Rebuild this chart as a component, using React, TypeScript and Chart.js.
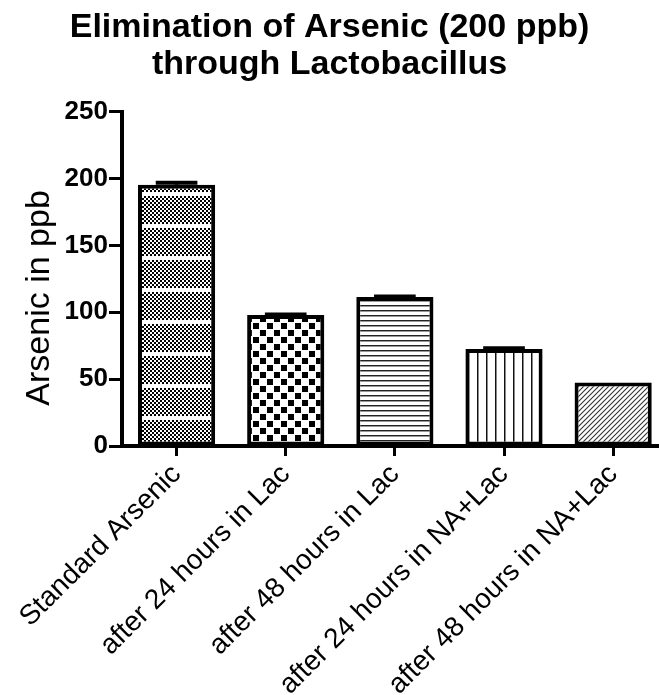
import React, { useEffect, useRef } from 'react';
import { Chart, registerables } from 'chart.js';

Chart.register(...registerables);

const categories = [
  'Standard Arsenic',
  'after 24 hours in Lac',
  'after 48 hours in Lac',
  'after 24 hours in NA+Lac',
  'after 48 hours in NA+Lac',
];
const meanValues = [195.5, 98, 111.5, 72.5, 47.5];
const errorValues = [1.5, 0.4, 0.4, 0.7, 0];
const yTicks = [0, 50, 100, 150, 200, 250];
const titleLines = ['Elimination of Arsenic (200 ppb)', 'through Lactobacillus'];
const yAxisTitle = 'Arsenic in ppb';
const patternKinds = ['fineChecker', 'coarseChecker', 'hLines', 'vLines', 'diagonal'];

const FONT = '"Liberation Sans", Arial, Helvetica, sans-serif';

function makePattern(kind: string): CanvasPattern | string {
  const c = document.createElement('canvas');
  const ctx = c.getContext('2d');
  if (!ctx) return '#fff';
  if (kind === 'fineChecker') {
    c.width = 4; c.height = 32;
    ctx.fillStyle = '#fff'; ctx.fillRect(0, 0, 4, 32);
    ctx.fillStyle = '#000';
    for (let y = 4; y < 32; y += 2) {
      const off = (y / 2) % 2 === 0 ? 0 : 2;
      ctx.fillRect(off, y, 2, 2);
    }
  } else if (kind === 'coarseChecker') {
    c.width = 14; c.height = 14;
    ctx.fillStyle = '#fff'; ctx.fillRect(0, 0, 14, 14);
    ctx.fillStyle = '#000';
    ctx.fillRect(1, 1, 6, 6);
    ctx.fillRect(8, 8, 6, 6);
  } else if (kind === 'hLines') {
    c.width = 5; c.height = 5;
    ctx.fillStyle = '#fff'; ctx.fillRect(0, 0, 5, 5);
    ctx.fillStyle = '#222'; ctx.fillRect(0, 0, 5, 1);
    ctx.fillStyle = '#999'; ctx.fillRect(0, 1, 5, 1);
  } else if (kind === 'vLines') {
    c.width = 9; c.height = 9;
    ctx.fillStyle = '#fff'; ctx.fillRect(0, 0, 9, 9);
    ctx.fillStyle = '#111'; ctx.fillRect(0, 0, 1, 9);
    ctx.fillStyle = '#888'; ctx.fillRect(1, 0, 1, 9);
  } else {
    c.width = 5; c.height = 5;
    ctx.fillStyle = '#fff'; ctx.fillRect(0, 0, 5, 5);
    ctx.strokeStyle = '#333'; ctx.lineWidth = 1.1;
    ctx.beginPath();
    ctx.moveTo(-1, 6); ctx.lineTo(6, -1);
    ctx.moveTo(-1, 1); ctx.lineTo(1, -1);
    ctx.moveTo(4, 6); ctx.lineTo(6, 4);
    ctx.stroke();
  }
  return ctx.createPattern(c, 'repeat') || '#fff';
}

const errorBarPlugin = {
  id: 'errorBars',
  afterDatasetsDraw(chart: any) {
    const meta = chart.getDatasetMeta(0);
    const yScale = chart.scales.y;
    const ctx = chart.ctx;
    ctx.save();
    ctx.strokeStyle = '#000';
    ctx.lineWidth = 4;
    meta.data.forEach((bar: any, i: number) => {
      const e = errorValues[i];
      if (!e) return;
      const top = yScale.getPixelForValue(meanValues[i] + e);
      const half = bar.width * 0.27;
      ctx.beginPath();
      ctx.moveTo(bar.x, bar.y);
      ctx.lineTo(bar.x, top);
      ctx.stroke();
      ctx.beginPath();
      ctx.moveTo(bar.x - half, top);
      ctx.lineTo(bar.x + half, top);
      ctx.stroke();
    });
    ctx.restore();
  },
};

const yTitlePlugin = {
  id: 'yTitle',
  afterDraw(chart: any) {
    const { ctx, chartArea } = chart;
    ctx.save();
    ctx.translate(40, (chartArea.top + chartArea.bottom) / 2 + 19);
    ctx.rotate(-Math.PI / 2);
    ctx.font = `34px ${FONT}`;
    ctx.fillStyle = '#000';
    ctx.textAlign = 'center';
    ctx.textBaseline = 'middle';
    ctx.fillText(yAxisTitle, 0, 0);
    ctx.restore();
  },
};

export default function App() {
  const ref = useRef<HTMLCanvasElement | null>(null);

  useEffect(() => {
    document.body.style.margin = '0';
    const canvas = ref.current;
    if (!canvas) return;
    const chart = new Chart(canvas, {
      type: 'bar',
      data: {
        datasets: [
          {
            data: meanValues.map((v, i) => ({ x: i, y: v })),
            backgroundColor: patternKinds.map((k) => makePattern(k)) as any,
            borderColor: '#000',
            borderWidth: 4,
            borderSkipped: false,
            barPercentage: 0.707,
            categoryPercentage: 1,
          },
        ],
      },
      options: {
        responsive: false,
        animation: false,
        events: [],
        layout: { padding: 0 },
        plugins: {
          legend: { display: false },
          tooltip: { enabled: false },
          title: {
            display: true,
            text: titleLines,
            color: '#000',
            font: { family: FONT, size: 34, weight: 'bold', lineHeight: 1.1 },
            padding: { top: 9, bottom: 28 },
          },
        },
        scales: {
          x: {
            type: 'linear',
            offset: false,
            min: -0.5,
            max: 4.42,
            afterBuildTicks: (axis: any) => {
              axis.ticks = categories.map((_, i) => ({ value: i }));
            },
            afterFit: (axis: any) => {
              axis.height = 249;
            },
            grid: {
              offset: false,
              drawOnChartArea: false,
              drawTicks: true,
              tickLength: 10,
              tickWidth: 3,
              tickColor: '#000',
            },
            border: { display: true, color: '#000', width: 4 },
            ticks: {
              autoSkip: false,
              maxRotation: 45,
              minRotation: 45,
              color: '#000',
              padding: 2,
              font: { family: FONT, size: 28 },
              callback: (v: any) => categories[Math.round(Number(v))] ?? '',
            },
          },
          y: {
            min: 0,
            max: 250,
            afterBuildTicks: (axis: any) => {
              axis.ticks = yTicks.map((v) => ({ value: v }));
            },
            afterFit: (axis: any) => {
              axis.width = 122;
            },
            grid: {
              drawOnChartArea: false,
              drawTicks: true,
              tickLength: 13,
              tickWidth: 3,
              tickColor: '#000',
            },
            border: { display: true, color: '#000', width: 4 },
            ticks: {
              color: '#000',
              padding: 1,
              font: { family: FONT, size: 26, weight: 'bold' },
            },
          },
        },
      },
      plugins: [errorBarPlugin, yTitlePlugin],
    } as any);
    return () => chart.destroy();
  }, []);

  return (
    <canvas
      ref={ref}
      width={659}
      height={695}
      style={{ display: 'block', width: 659, height: 695 }}
    />
  );
}
